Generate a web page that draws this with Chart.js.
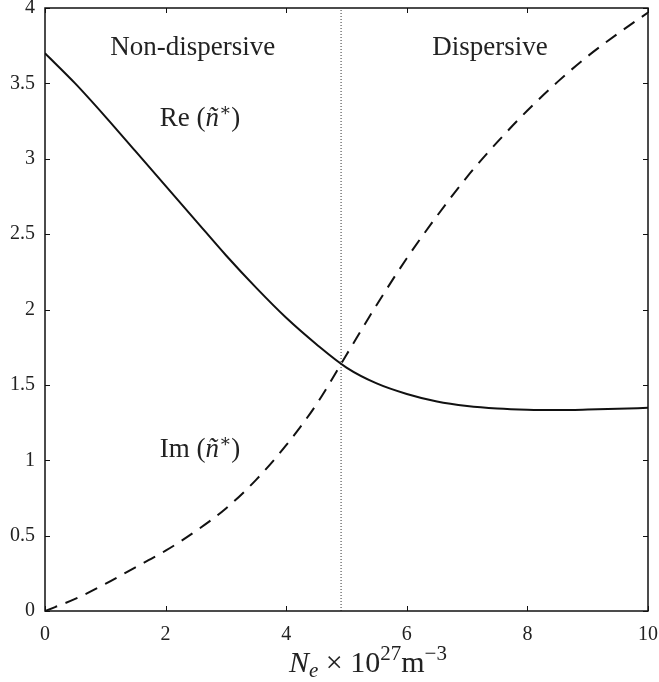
<!DOCTYPE html>
<html>
<head>
<meta charset="utf-8">
<script src="https://cdn.jsdelivr.net/npm/chart.js@4"></script>
<style>
  html, body { margin: 0; padding: 0; background: #fff; }
  #wrap { width: 659px; height: 682px; }
</style>
</head>
<body>
<div id="wrap"><canvas id="chart" width="659" height="682"></canvas></div>
<script>
// electron density, x 10^27 m^-3
const densities = [0, 0.5, 1, 1.5, 2, 2.5, 3, 3.5, 4, 4.5, 5, 5.5, 6, 6.5, 7, 7.5, 8, 8.5, 9, 9.5, 10];
const realPart = [3.70, 3.50, 3.28, 3.05, 2.82, 2.59, 2.36, 2.145, 1.945, 1.77, 1.615, 1.51, 1.44, 1.39, 1.36, 1.343, 1.335, 1.333, 1.336, 1.341, 1.348];
const imagPart = [0, 0.08, 0.18, 0.29, 0.40, 0.53, 0.68, 0.87, 1.10, 1.37, 1.70, 2.03, 2.34, 2.62, 2.88, 3.11, 3.32, 3.51, 3.68, 3.83, 3.97];
const boundaryX = 4.91;
const yRange = [0, 4];

const serif = '"Liberation Serif", "DejaVu Serif", serif';

// text labels placed in data coordinates (centre x, baseline y)
const annotations = [
    { text: 'Non-dispersive', x: 2.45, y: 3.69 },
    { text: 'Dispersive', x: 7.38, y: 3.69 },
    { text: 'Re', sup: true, x: 2.57, y: 3.22 },
    { text: 'Im', sup: true, x: 2.57, y: 1.02 }
];

function toPoints(xs, ys) {
    return xs.map((x, i) => ({ x: x, y: ys[i] }));
}

function drawPieces(ctx, pieces, x, baseline) {
    pieces.forEach(p => {
        ctx.font = p.font;
        ctx.fillText(p.t, x, baseline + (p.dy || 0));
        x += ctx.measureText(p.t).width;
    });
}

function piecesWidth(ctx, pieces) {
    let w = 0;
    pieces.forEach(p => { ctx.font = p.font; w += ctx.measureText(p.t).width; });
    return w;
}

// drop the extra room chart.js keeps for edge tick labels
function noEdgePadding(scale) {
    scale.paddingTop = 0;
    scale.paddingBottom = 0;
    scale.paddingLeft = 0;
    scale.paddingRight = 0;
}

const framePlugin = {
    id: 'frame',
    afterDraw(chart) {
        const ctx = chart.ctx;
        const a = chart.chartArea;
        const xs = chart.scales.x;
        const ys = chart.scales.y;
        ctx.save();
        ctx.strokeStyle = '#111';
        ctx.lineWidth = 1.5;
        ctx.strokeRect(a.left, a.top, a.right - a.left, a.bottom - a.top);

        // inward ticks on every side
        ctx.lineWidth = 1;
        const tl = 5;
        ctx.beginPath();
        xs.ticks.forEach(t => {
            const px = Math.round(xs.getPixelForValue(t.value)) + 0.5;
            ctx.moveTo(px, a.bottom); ctx.lineTo(px, a.bottom - tl);
            ctx.moveTo(px, a.top); ctx.lineTo(px, a.top + tl);
        });
        ys.ticks.forEach(t => {
            const py = Math.round(ys.getPixelForValue(t.value)) + 0.5;
            ctx.moveTo(a.left, py); ctx.lineTo(a.left + tl, py);
            ctx.moveTo(a.right, py); ctx.lineTo(a.right - tl, py);
        });
        ctx.stroke();

        // annotations
        ctx.fillStyle = '#222';
        ctx.textBaseline = 'alphabetic';
        ctx.textAlign = 'left';
        annotations.forEach(an => {
            let pieces;
            if (an.sup) {
                pieces = [
                    { t: an.text + ' (', font: '27px ' + serif },
                    { t: 'ñ', font: 'italic 27px ' + serif },
                    { t: '∗', font: '18px ' + serif, dy: -10 },
                    { t: ')', font: '27px ' + serif }
                ];
            } else {
                pieces = [{ t: an.text, font: '27px ' + serif }];
            }
            const w = piecesWidth(ctx, pieces);
            drawPieces(ctx, pieces, xs.getPixelForValue(an.x) - w / 2, ys.getPixelForValue(an.y));
        });

        // x axis title: N_e x 10^27 m^-3
        const title = [
            { t: 'N', font: 'italic 30px ' + serif },
            { t: 'e', font: 'italic 21px ' + serif, dy: 5 },
            { t: ' × 10', font: '30px ' + serif },
            { t: '27', font: '21px ' + serif, dy: -12 },
            { t: 'm', font: '30px ' + serif },
            { t: '−3', font: '21px ' + serif, dy: -12 }
        ];
        const tw = piecesWidth(ctx, title);
        drawPieces(ctx, title, 368 - tw / 2, 672);
        ctx.restore();
    }
};

new Chart(document.getElementById('chart'), {
    type: 'line',
    data: {
        datasets: [
            {
                label: 'Re',
                data: toPoints(densities, realPart),
                borderColor: '#111',
                borderWidth: 2,
                pointRadius: 0,
                cubicInterpolationMode: 'monotone'
            },
            {
                label: 'Im',
                data: toPoints(densities, imagPart),
                borderColor: '#111',
                borderWidth: 2,
                borderDash: [13, 9],
                pointRadius: 0,
                cubicInterpolationMode: 'monotone'
            },
            {
                label: 'boundary',
                data: [{ x: boundaryX, y: yRange[0] }, { x: boundaryX, y: yRange[1] }],
                borderColor: '#333',
                borderWidth: 1,
                borderDash: [1, 2],
                pointRadius: 0
            }
        ]
    },
    options: {
        responsive: false,
        animation: false,
        layout: { padding: { left: 0, right: 11, top: 8, bottom: 0 } },
        plugins: { legend: { display: false }, tooltip: { enabled: false } },
        scales: {
            x: {
                type: 'linear',
                min: 0,
                max: 10,
                grid: { drawOnChartArea: false, drawTicks: false },
                border: { display: false },
                ticks: {
                    stepSize: 2,
                    padding: 12,
                    color: '#222',
                    font: { family: serif, size: 20 }
                },
                afterFit(scale) { scale.height = 71; noEdgePadding(scale); }
            },
            y: {
                min: yRange[0],
                max: yRange[1],
                grid: { drawOnChartArea: false, drawTicks: false },
                border: { display: false },
                ticks: {
                    stepSize: 0.5,
                    padding: 10,
                    color: '#222',
                    font: { family: serif, size: 20 },
                    callback: v => String(v)
                },
                afterFit(scale) { scale.width = 45; noEdgePadding(scale); }
            }
        }
    },
    plugins: [framePlugin]
});
</script>
</body>
</html>
